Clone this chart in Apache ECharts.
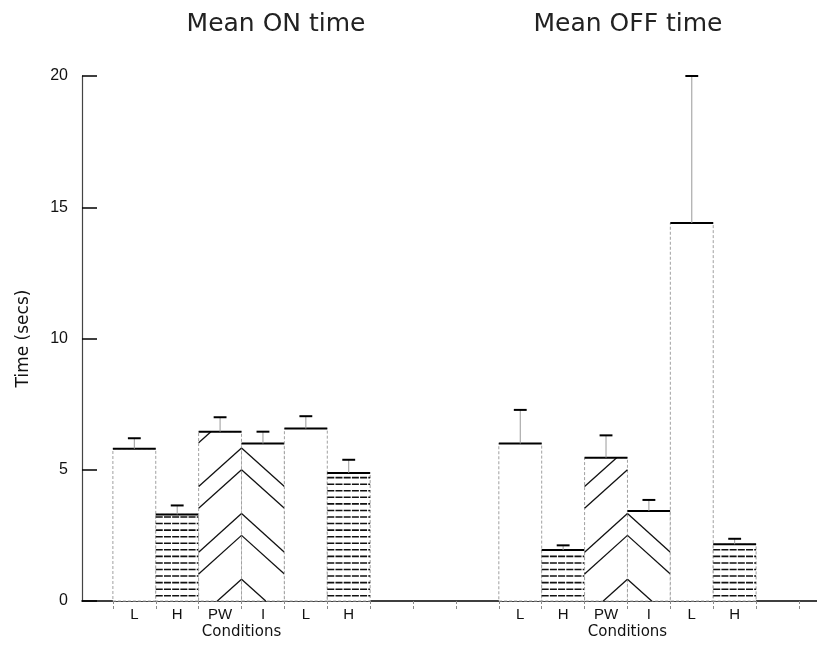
<!DOCTYPE html>
<html>
<head>
<meta charset="utf-8">
<script src="https://cdn.jsdelivr.net/npm/echarts@6/dist/echarts.min.js"></script>
<style>
  html, body { margin: 0; padding: 0; background: #fff; }
  #chart { width: 817px; height: 646px; }
</style>
</head>
<body>
<div id="chart"></div>
<script>
// Condition label for each slot along the x axis (blank slots separate the two panels)
const slotLabels = ['L', 'H', 'PW', 'I', 'L', 'H', '', '', '', 'L', 'H', 'PW', 'I', 'L', 'H', ''];

// Mean ON time (secs) and standard error, one bar per slot
const onSlots = [0, 1, 2, 3, 4, 5];
const onMeans = [5.8, 3.3, 6.45, 6.0, 6.57, 4.88];
const onErrors = [0.4, 0.34, 0.55, 0.45, 0.47, 0.5];

// Mean OFF time (secs) and standard error
const offSlots = [9, 10, 11, 12, 13, 14];
const offMeans = [6.0, 1.94, 5.46, 3.43, 14.4, 2.16];
const offErrors = [1.28, 0.18, 0.85, 0.42, 5.6, 0.21];

const panelTitles = ['Mean ON time', 'Mean OFF time'];
const groupNames = ['Conditions', 'Conditions'];
const yTicks = [0, 5, 10, 15, 20];

// Fill pattern settings (in axis units)
const HATCH_START = 0.2, HATCH_STEP = 0.25;
const CHEVRON_SLOPE = 1.47, CHEVRON_PERIOD = 2.5, CHEVRON_OFFSETS = [0, 0.83];

const slotTicks = slotLabels.map((_, i) => i).concat([slotLabels.length]);
const slotCenters = slotLabels.map((s, i) => i + 0.5).filter((v, i) => slotLabels[i] !== '');
const groupCenters = [
  onSlots[0] + onSlots.length / 2,
  offSlots[0] + offSlots.length / 2
];

function toRows(slots, means, errs) {
  return slots.map((s, i) => [s, means[i], errs[i]]);
}
const barRows = toRows(onSlots, onMeans, onErrors).concat(toRows(offSlots, offMeans, offErrors));

function seg(api, a, b, style) {
  const p = api.coord(a), q = api.coord(b);
  return { type: 'line', shape: { x1: p[0], y1: p[1], x2: q[0], y2: q[1] }, style: style };
}

function renderBar(params, api) {
  const slot = api.value(0), mean = api.value(1), err = api.value(2);
  const kind = slotLabels[slot];
  const x0 = slot, x1 = slot + 1, xc = slot + 0.5;
  const base = api.coord([x0, 0]);
  const top = api.coord([x1, mean]);
  const children = [];

  // white body with faint dotted sides
  children.push({
    type: 'rect',
    shape: { x: base[0], y: top[1], width: top[0] - base[0], height: base[1] - top[1] },
    style: { fill: '#fff', stroke: '#a0a0a0', lineWidth: 1, lineDash: [3, 2] }
  });

  if (kind === 'H') {
    // horizontal hatching
    for (let v = HATCH_START; v < mean - 0.08; v += HATCH_STEP) {
      children.push(seg(api, [x0, v], [x1, v], { stroke: '#111', lineWidth: 1.6, lineDash: [7, 1.2] }));
    }
  } else if (kind === 'PW' || kind === 'I') {
    // chevron lines meeting at the PW / I boundary
    const peakX = kind === 'PW' ? x1 : x0;
    const dir = kind === 'PW' ? -1 : 1;
    for (let n = 0; n * CHEVRON_PERIOD <= mean + CHEVRON_SLOPE + 1; n++) {
      CHEVRON_OFFSETS.forEach(off => {
        const pk = n * CHEVRON_PERIOD + off;
        if (pk <= 0) return;
        const dLo = Math.max(0, (pk - mean) / CHEVRON_SLOPE);
        const dHi = Math.min(1, pk / CHEVRON_SLOPE);
        if (dHi - dLo < 1e-3) return;
        children.push(seg(api,
          [peakX + dir * dLo, pk - CHEVRON_SLOPE * dLo],
          [peakX + dir * dHi, pk - CHEVRON_SLOPE * dHi],
          { stroke: '#111', lineWidth: 1.3 }));
      });
    }
  }

  // solid top edge
  children.push(seg(api, [x0, mean], [x1, mean], { stroke: '#000', lineWidth: 2 }));

  // error bar
  children.push(seg(api, [xc, mean], [xc, mean + err], { stroke: '#9a9a9a', lineWidth: 1 }));
  children.push(seg(api, [xc - 0.15, mean + err], [xc + 0.15, mean + err], { stroke: '#000', lineWidth: 2 }));

  return { type: 'group', children: children };
}

const X_MIN = -0.72, X_MAX = 16.42;
const gridBox = { left: 82, right: 0, top: 76, bottom: 45, containLabel: false, outerBoundsMode: 'none' };

const chart = echarts.init(document.getElementById('chart'), null, { renderer: 'canvas' });
chart.setOption({
  backgroundColor: '#fff',
  animation: false,
  textStyle: { fontFamily: 'DejaVu Sans' },
  graphic: [
    { type: 'text', x: 276, y: 24, style: { text: panelTitles[0], align: 'center', verticalAlign: 'middle', font: '25px "DejaVu Sans"', fill: '#222' } },
    { type: 'text', x: 628, y: 24, style: { text: panelTitles[1], align: 'center', verticalAlign: 'middle', font: '25px "DejaVu Sans"', fill: '#222' } }
  ],
  grid: [Object.assign({}, gridBox), Object.assign({}, gridBox)],
  xAxis: [
    {
      type: 'value', gridIndex: 0, min: X_MIN, max: X_MAX,
      splitLine: { show: false },
      axisLine: { show: true, onZero: false, lineStyle: { color: '#000', width: 1.6 } },
      axisTick: { show: true, customValues: slotTicks, length: 10, lineStyle: { color: '#888', width: 1, type: [3, 2] } },
      axisLabel: {
        customValues: slotCenters, margin: 6, fontSize: 15, color: '#111', fontFamily: 'Liberation Sans',
        formatter: v => slotLabels[Math.floor(v)]
      }
    },
    {
      type: 'value', gridIndex: 1, min: X_MIN, max: X_MAX,
      splitLine: { show: false }, axisLine: { show: false }, axisTick: { show: false },
      axisLabel: {
        customValues: groupCenters, margin: 24, fontSize: 15, color: '#111', fontFamily: 'DejaVu Sans',
        formatter: v => groupNames[groupCenters.indexOf(v)]
      }
    }
  ],
  yAxis: [
    {
      type: 'value', gridIndex: 0, min: 0, max: 20, interval: 5,
      name: 'Time (secs)', nameLocation: 'middle', nameGap: 50,
      nameTextStyle: { fontSize: 17, color: '#111', fontFamily: 'DejaVu Sans' },
      splitLine: { show: false },
      axisLine: { show: true, onZero: false, lineStyle: { color: '#444', width: 1.2 } },
      axisTick: { show: true, inside: true, length: 15, lineStyle: { color: '#000', width: 1.5 } },
      axisLabel: { margin: 14, fontSize: 16, color: '#111', fontFamily: 'Liberation Sans', customValues: yTicks }
    },
    {
      type: 'value', gridIndex: 1, min: 0, max: 20, show: false
    }
  ],
  series: [
    {
      type: 'custom',
      xAxisIndex: 0, yAxisIndex: 0,
      renderItem: renderBar,
      encode: { x: 0, y: 1 },
      data: barRows,
      clip: false,
      z: 1
    }
  ]
});
</script>
</body>
</html>
